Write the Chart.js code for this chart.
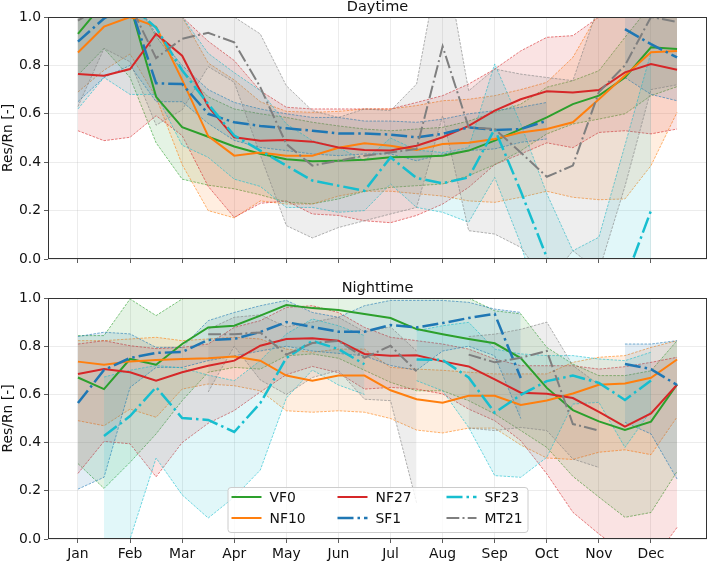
<!DOCTYPE html>
<html>
<head>
<meta charset="utf-8">
<script src="https://cdn.jsdelivr.net/npm/chart.js@4.4.1/dist/chart.umd.min.js"></script>
<style>
body { margin: 0; background: #fff; }
#wrap { position: relative; width: 709px; height: 561px; }
.panel { position: absolute; left: 0; }
</style>
</head>
<body>
<div id="wrap">
  <canvas class="panel" id="dayChart" width="709" height="275" style="top:0"></canvas>
  <canvas class="panel" id="nightChart" width="709" height="286" style="top:275px"></canvas>
</div>
<script>
// half-month positions (0 = Jan)
const monthPos = [0, 0.5, 1, 1.5, 2, 2.5, 3, 3.5, 4, 4.5, 5, 5.5, 6, 6.5, 7, 7.5, 8, 8.5, 9, 9.5, 10, 10.5, 11, 11.5];
const monthLabels = ['Jan', 'Feb', 'Mar', 'Apr', 'May', 'Jun', 'Jul', 'Aug', 'Sep', 'Oct', 'Nov', 'Dec'];
const yTicks = [0, 0.2, 0.4, 0.6, 0.8, 1.0];
const seriesNames = ['VF0', 'NF10', 'NF27', 'SF1', 'SF23', 'MT21'];

// Daytime
const dayVF0   = [0.93, 1.06, 1.05, 0.67, 0.545, 0.505, 0.465, 0.435, 0.412, 0.404, 0.406, 0.41, 0.42, 0.423, 0.427, 0.448, 0.489, 0.537, 0.585, 0.64, 0.675, 0.75, 0.875, 0.868];
const dayVF0Hi = [1.1, 1.1, 1.1, 0.92, 0.78, 0.67, 0.62, 0.6, 0.585, 0.565, 0.55, 0.537, 0.53, 0.537, 0.544, 0.57, 0.606, 0.64, 0.71, 0.737, 0.778, 0.916, 1.05, 1.05];
const dayVF0Lo = [0.76, 0.87, 0.75, 0.48, 0.33, 0.305, 0.29, 0.265, 0.235, 0.228, 0.248, 0.28, 0.296, 0.303, 0.31, 0.344, 0.39, 0.447, 0.517, 0.558, 0.578, 0.6, 0.675, 0.712];

const dayNF10   = [0.853, 0.96, 1.0, 0.96, 0.74, 0.508, 0.427, 0.44, 0.427, 0.427, 0.46, 0.478, 0.468, 0.45, 0.475, 0.48, 0.496, 0.523, 0.537, 0.565, 0.66, 0.758, 0.854, 0.86];
const dayNF10Hi = [1.1, 1.1, 1.1, 1.1, 1.0, 0.81, 0.74, 0.65, 0.61, 0.606, 0.61, 0.62, 0.62, 0.634, 0.654, 0.66, 0.675, 0.7, 0.73, 0.833, 1.02, 1.1, 1.1, 1.1];
const dayNF10Lo = [0.69, 0.78, 0.847, 0.668, 0.39, 0.2, 0.17, 0.24, 0.227, 0.227, 0.26, 0.28, 0.28, 0.27, 0.26, 0.24, 0.234, 0.255, 0.28, 0.255, 0.245, 0.248, 0.386, 0.606];

const dayNF27   = [0.764, 0.757, 0.785, 0.93, 0.84, 0.63, 0.503, 0.489, 0.492, 0.485, 0.461, 0.45, 0.448, 0.468, 0.503, 0.55, 0.613, 0.66, 0.693, 0.688, 0.698, 0.771, 0.806, 0.782];
const dayNF27Hi = [1.1, 1.1, 1.1, 1.1, 1.0, 0.9, 0.82, 0.695, 0.627, 0.62, 0.62, 0.62, 0.62, 0.647, 0.675, 0.723, 0.785, 0.86, 0.916, 0.923, 1.0, 1.05, 1.1, 1.1];
const dayNF27Lo = [0.53, 0.489, 0.503, 0.592, 0.51, 0.3, 0.172, 0.23, 0.24, 0.186, 0.18, 0.158, 0.15, 0.18, 0.227, 0.296, 0.39, 0.434, 0.48, 0.46, 0.523, 0.53, 0.517, 0.537];

const daySF1   = [0.898, 0.994, 1.05, 0.726, 0.723, 0.6, 0.565, 0.55, 0.54, 0.53, 0.519, 0.519, 0.514, 0.503, 0.517, 0.544, 0.533, 0.537, 0.571, null, null, 0.95, 0.888, 0.833];
const daySF1Hi = [1.1, 1.1, 1.1, 0.93, 0.8, 0.7, 0.647, 0.62, 0.6, 0.585, 0.585, 0.57, 0.57, 0.565, 0.578, 0.6, 0.613, 0.627, 0.647, null, null, 1.1, 1.05, 1.0];
const daySF1Lo = [0.65, 0.75, 0.8, 0.65, 0.65, 0.56, 0.49, 0.461, 0.448, 0.434, 0.427, 0.434, 0.434, 0.406, 0.434, 0.448, 0.455, 0.482, 0.496, null, null, 0.75, 0.68, 0.654];

const daySF23   = [1.1, 1.1, 1.05, 0.955, 0.78, 0.64, 0.51, 0.448, 0.386, 0.324, 0.303, 0.282, 0.42, 0.335, 0.313, 0.337, 0.537, 0.28, 0.007, -0.3, -0.45, -0.09, 0.2, null];
const daySF23Hi = [1.1, 1.1, 1.1, 1.1, 1.0, 0.85, 0.77, 0.696, 0.558, 0.489, 0.461, 0.406, 0.5, 0.45, 0.44, 0.46, 0.806, 0.558, 0.27, 0.034, 0.09, 0.47, 0.854, null];
const daySF23Lo = [0.62, 0.75, 0.68, 0.68, 0.47, 0.42, 0.33, 0.3, 0.213, 0.213, 0.193, 0.2, 0.31, 0.213, 0.193, 0.152, 0.337, 0.062, -0.3, -0.6, -0.8, -0.5, -0.3, null];

const dayMT21   = [0.985, 1.05, 1.05, 0.83, 0.91, 0.935, 0.895, 0.71, 0.475, 0.386, 0.406, 0.427, 0.44, 0.455, 0.879, 0.544, 0.537, 0.44, 0.34, 0.386, 0.69, 0.8, 1.0, 0.98];
const dayMT21Hi = [1.1, 1.1, 1.1, 1.05, 1.1, 1.1, 1.0, 0.93, 0.716, 0.613, 0.585, 0.62, 0.613, 0.723, 1.3, 0.695, 0.785, 0.764, 0.75, 0.737, 1.05, 1.1, 1.1, 1.1];
const dayMT21Lo = [0.63, 0.87, 0.815, 0.553, 0.616, 0.795, 0.73, 0.43, 0.138, 0.087, 0.13, 0.158, 0.186, 0.213, 0.592, 0.117, 0.103, 0.048, -0.1, 0.034, -0.05, 0.3, 0.7, 0.72];

// Nighttime
const nightVF0   = [0.67, 0.622, 0.747, 0.723, 0.809, 0.878, 0.885, 0.927, 0.971, 0.958, 0.95, 0.934, 0.917, 0.871, 0.85, 0.83, 0.812, 0.751, 0.627, 0.535, 0.488, 0.452, 0.487, 0.641];
const nightVF0Hi = [0.844, 0.844, 0.996, 0.927, 0.996, 1.05, 1.1, 1.1, 1.1, 1.1, 1.1, 1.1, 1.05, 1.02, 1.0, 1.0, 0.947, 0.934, 0.795, 0.726, 0.678, 0.678, 0.698, 0.823];
const nightVF0Lo = [0.313, 0.21, 0.318, 0.436, 0.574, 0.692, 0.712, 0.705, 0.76, 0.768, 0.75, 0.7, 0.65, 0.615, 0.615, 0.574, 0.519, 0.45, 0.38, 0.26, 0.174, 0.09, 0.11, 0.28];

const nightNF10   = [0.736, 0.723, 0.737, 0.743, 0.747, 0.75, 0.757, 0.74, 0.678, 0.657, 0.678, 0.678, 0.617, 0.58, 0.565, 0.594, 0.594, 0.556, 0.575, 0.604, 0.64, 0.645, 0.669, 0.745];
const nightNF10Hi = [0.823, 0.823, 0.83, 0.837, 0.823, 0.83, 0.837, 0.83, 0.788, 0.775, 0.788, 0.788, 0.712, 0.705, 0.7, 0.692, 0.685, 0.685, 0.685, 0.733, 0.754, 0.761, 0.795, 0.823];
const nightNF10Lo = [0.491, 0.47, 0.539, 0.505, 0.622, 0.643, 0.636, 0.615, 0.532, 0.526, 0.532, 0.526, 0.5, 0.452, 0.44, 0.46, 0.46, 0.39, 0.336, 0.33, 0.36, 0.37, 0.35, 0.506];

const nightNF27   = [0.685, 0.705, 0.692, 0.657, 0.692, 0.719, 0.74, 0.802, 0.83, 0.833, 0.823, 0.768, 0.76, 0.762, 0.737, 0.716, 0.662, 0.607, 0.603, 0.585, 0.527, 0.466, 0.521, 0.64];
const nightNF27Hi = [0.809, 0.823, 0.802, 0.79, 0.795, 0.809, 0.878, 0.906, 0.961, 0.968, 0.94, 0.878, 0.837, 0.823, 0.809, 0.788, 0.747, 0.719, 0.719, 0.719, 0.705, 0.715, 0.733, 0.754];
const nightNF27Lo = [0.272, 0.405, 0.395, 0.258, 0.4, 0.48, 0.533, 0.61, 0.682, 0.716, 0.69, 0.622, 0.629, 0.622, 0.602, 0.539, 0.491, 0.408, 0.27, 0.111, 0.021, -0.06, -0.1, 0.048];

const nightSF1   = [0.564, 0.701, 0.751, 0.772, 0.776, 0.826, 0.83, 0.859, 0.9, 0.88, 0.86, 0.86, 0.888, 0.878, 0.896, 0.917, 0.934, 0.668, null, null, null, 0.726, 0.705, 0.639];
const nightSF1Hi = [0.84, 0.858, 0.851, 0.795, 0.795, 0.906, 0.94, 0.968, 0.99, 0.94, 0.92, 0.968, 0.99, 0.99, 0.99, 0.982, 0.954, 0.94, null, null, null, 0.809, 0.809, 0.823];
const nightSF1Lo = [0.207, 0.256, 0.629, 0.712, 0.712, 0.74, 0.76, 0.78, 0.8, 0.78, 0.77, 0.76, 0.72, 0.7, 0.78, 0.8, 0.76, 0.5, null, null, null, 0.484, 0.436, 0.249];

const nightSF23   = [null, 0.427, 0.51, 0.63, 0.502, 0.494, 0.444, 0.564, 0.751, 0.822, 0.788, 0.725, null, 0.745, 0.743, 0.67, 0.524, 0.598, 0.655, 0.678, 0.648, 0.577, 0.658, null];
const nightSF23Hi = [null, 0.672, 0.7, 0.72, 0.71, 0.68, 0.657, 0.74, 0.851, 0.913, 0.885, 0.844, null, 0.864, 0.885, 0.899, 0.788, 0.768, 0.761, 0.761, 0.747, 0.74, 0.775, null];
const nightSF23Lo = [null, -0.3, 0.0, 0.336, 0.183, 0.087, 0.174, 0.286, 0.585, 0.701, 0.639, 0.6, null, 0.657, 0.615, 0.463, 0.263, 0.256, 0.339, 0.56, 0.567, 0.38, 0.532, null];

const nightMT21   = [null, null, null, null, null, 0.85, 0.85, 0.857, 0.765, 0.813, 0.822, 0.752, 0.802, 0.696, null, 0.765, 0.733, 0.752, 0.78, 0.477, 0.45, null, null, null];
const nightMT21Hi = [null, null, null, null, null, 0.87, 0.92, 0.93, 0.88, 0.9, 0.92, 0.86, 0.88, 0.78, null, 0.84, 0.85, 0.87, 0.9, 0.72, 0.64, null, null, null];
const nightMT21Lo = [null, null, null, null, null, 0.61, 0.8, 0.66, 0.6, 0.67, 0.7, 0.58, 0.574, 0.15, null, 0.46, 0.45, 0.463, 0.45, 0.332, 0.297, null, null, null];

// line look per series (matplotlib tab10 colours)
const styles = {
    VF0:  { rgb: [44, 160, 44],   width: 2,   dash: [] },
    NF10: { rgb: [255, 127, 14],  width: 2,   dash: [] },
    NF27: { rgb: [214, 39, 40],   width: 2,   dash: [] },
    SF1:  { rgb: [31, 119, 180],  width: 2.5, dash: [16, 4, 2.5, 4] },
    SF23: { rgb: [23, 190, 207],  width: 2.5, dash: [16, 4, 2.5, 4] },
    MT21: { rgb: [127, 127, 127], width: 2,   dash: [12.8, 3.2, 2, 3.2] }
};
const FONT = '"DejaVu Sans", sans-serif';
const FS = 13.9;

function rgba(c, a) { return 'rgba(' + c[0] + ',' + c[1] + ',' + c[2] + ',' + a + ')'; }
function pts(arr) { return arr.map((v, i) => ({ x: monthPos[i], y: v })); }

function buildDatasets(panel) {
    const sets = [];
    seriesNames.forEach((name, i) => {
        const s = styles[name];
        const [mean, hi, lo] = panel[name];
        const edge = { borderColor: rgba(s.rgb, 0.75), borderWidth: 0.8, borderDash: [2.6, 1.3],
                       pointRadius: 0, tension: 0, spanGaps: false, order: 100 + (6 - i) };
        sets.push(Object.assign({ label: name + ' hi', data: pts(hi), fill: '+1',
                                  backgroundColor: rgba(s.rgb, 0.13) }, edge));
        sets.push(Object.assign({ label: name + ' lo', data: pts(lo), fill: false }, edge));
        sets.push({ label: name, data: pts(mean), borderColor: rgba(s.rgb, 1), borderWidth: s.width,
                    borderDash: s.dash, pointRadius: 0, tension: 0, fill: false, spanGaps: false,
                    order: 6 - i });
    });
    return sets;
}

const framePlugin = {
    id: 'frame',
    afterDraw(chart, args, opts) {
        const { ctx, chartArea: a } = chart;
        ctx.save();
        ctx.strokeStyle = '#333';
        ctx.lineWidth = 1;
        ctx.setLineDash([]);
        ctx.strokeRect(a.left + 0.5, a.top + 0.5, a.right - a.left - 1, a.bottom - a.top - 1);
        ctx.fillStyle = '#111';
        ctx.font = '14.5px ' + FONT;
        ctx.textAlign = 'center';
        ctx.textBaseline = 'middle';
        ctx.fillText(opts.title, (a.left + a.right) / 2, a.top - 10);

        if (opts.legend) {
            ctx.font = FS + 'px ' + FONT;
            const cx = (a.left + a.right) / 2;
            const w = 300, h = 45;
            const x0 = cx - w / 2, y0 = a.bottom - 7 - h;
            ctx.beginPath();
            ctx.roundRect(x0 + 0.5, y0 + 0.5, w, h, 3);
            ctx.fillStyle = 'rgba(255,255,255,0.8)';
            ctx.fill();
            ctx.strokeStyle = '#cccccc';
            ctx.lineWidth = 1;
            ctx.stroke();
            const colX = [4, 110, 219];
            const rowY = [10, 31];
            ctx.textAlign = 'left';
            seriesNames.forEach((name, i) => {
                const s = styles[name];
                const col = Math.floor(i / 2), row = i % 2;
                const hx = x0 + colX[col], hy = y0 + rowY[row];
                ctx.beginPath();
                ctx.setLineDash(s.dash);
                ctx.lineWidth = s.width;
                ctx.strokeStyle = rgba(s.rgb, 1);
                ctx.moveTo(hx, hy);
                ctx.lineTo(hx + 30, hy);
                ctx.stroke();
                ctx.setLineDash([]);
                ctx.fillStyle = '#111';
                ctx.fillText(name, hx + 38, hy + 1);
            });
        }
        ctx.restore();
    }
};

function makeChart(id, panel, title, showLabels, padTop, xHeight) {
    return new Chart(document.getElementById(id), {
        type: 'line',
        data: { datasets: buildDatasets(panel) },
        plugins: [framePlugin],
        options: {
            responsive: false,
            animation: false,
            layout: { padding: { top: padTop, right: 2, left: 0, bottom: 0 } },
            plugins: {
                legend: { display: false },
                tooltip: { enabled: false },
                frame: { title: title, legend: showLabels }
            },
            scales: {
                x: {
                    type: 'linear',
                    min: -0.575,
                    max: 12.075,
                    afterBuildTicks: (axis) => { axis.ticks = monthLabels.map((m, i) => ({ value: i })); },
                    afterFit: (axis) => { axis.height = xHeight; },
                    ticks: {
                        autoSkip: false, maxRotation: 0, padding: 3, color: '#111',
                        font: { family: FONT, size: FS },
                        callback: (v) => showLabels ? monthLabels[v] : ''
                    },
                    grid: { color: 'rgba(176,176,176,0.3)', lineWidth: 0.8, tickLength: 4, tickColor: '#333', tickWidth: 0.8 },
                    border: { display: false }
                },
                y: {
                    min: 0,
                    max: 1,
                    afterBuildTicks: (axis) => { axis.ticks = yTicks.map(v => ({ value: v })); },
                    afterFit: (axis) => { axis.width = 48; },
                    ticks: {
                        padding: 3, color: '#111',
                        font: { family: FONT, size: FS },
                        callback: (v) => Number(v).toFixed(1)
                    },
                    title: { display: true, text: 'Res/Rn [-]', color: '#111', padding: 0,
                             font: { family: FONT, size: FS } },
                    grid: { color: 'rgba(176,176,176,0.3)', lineWidth: 0.8, tickLength: 4, tickColor: '#333', tickWidth: 0.8 },
                    border: { display: false }
                }
            }
        }
    });
}

const dayPanel = {
    VF0: [dayVF0, dayVF0Hi, dayVF0Lo], NF10: [dayNF10, dayNF10Hi, dayNF10Lo],
    NF27: [dayNF27, dayNF27Hi, dayNF27Lo], SF1: [daySF1, daySF1Hi, daySF1Lo],
    SF23: [daySF23, daySF23Hi, daySF23Lo], MT21: [dayMT21, dayMT21Hi, dayMT21Lo]
};
const nightPanel = {
    VF0: [nightVF0, nightVF0Hi, nightVF0Lo], NF10: [nightNF10, nightNF10Hi, nightNF10Lo],
    NF27: [nightNF27, nightNF27Hi, nightNF27Lo], SF1: [nightSF1, nightSF1Hi, nightSF1Lo],
    SF23: [nightSF23, nightSF23Hi, nightSF23Lo], MT21: [nightMT21, nightMT21Hi, nightMT21Lo]
};

makeChart('dayChart', dayPanel, 'Daytime', false, 17, 16);
makeChart('nightChart', nightPanel, 'Nighttime', true, 23, 22);
</script>
</body>
</html>
